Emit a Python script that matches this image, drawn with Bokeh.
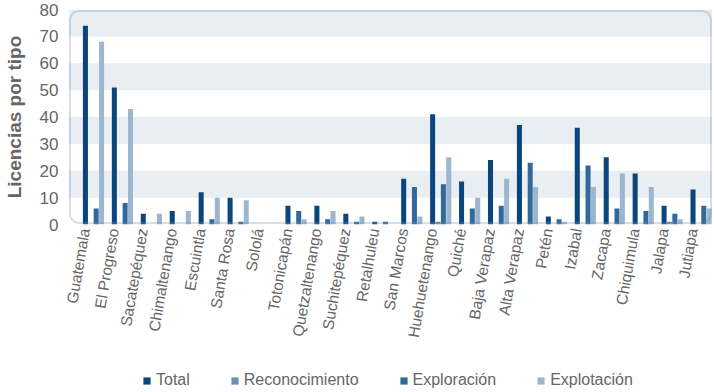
import math
from bokeh.plotting import figure
from bokeh.layouts import column
from bokeh.models import (Range1d, FixedTicker, PolyAnnotation, Legend, LegendItem,
                          ColumnDataSource)
from bokeh.transform import dodge
from bokeh.embed import file_html
from bokeh.resources import INLINE

departamentos = ["Guatemala", "El Progreso", "Sacatepéquez", "Chimaltenango", "Escuintla",
                 "Santa Rosa", "Sololá", "Totonicapán", "Quetzaltenango", "Suchitepéquez",
                 "Retalhuleu", "San Marcos", "Huehuetenango", "Quiché", "Baja Verapaz",
                 "Alta Verapaz", "Petén", "Izabal", "Zacapa", "Chiquimula", "Jalapa", "Jutiapa"]
total          = [74, 51, 4, 5, 12, 10, 0, 7, 7, 4, 1, 17, 41, 16, 24, 37, 3, 36, 25, 19, 7, 13]
reconocimiento = [0, 0, 0, 0, 0, 0, 0, 0, 0, 0, 0, 0, 1, 0, 0, 0, 0, 0, 0, 0, 1, 0]
exploracion    = [6, 8, 0, 0, 2, 1, 0, 5, 2, 1, 1, 14, 15, 6, 7, 23, 2, 22, 6, 5, 4, 7]
explotacion    = [68, 43, 4, 5, 10, 9, 0, 2, 5, 3, 0, 3, 25, 10, 17, 14, 1, 14, 19, 14, 2, 6]
series_names = ["Total", "Reconocimiento", "Exploración", "Explotación"]
y_ticks = [0, 10, 20, 30, 40, 50, 60, 70, 80]

colors = ["#0a467d", "#6991b4", "#33699a", "#9bb7d0"]
offsets = [0.027, 0.213, 0.399, 0.585]
TEXT = "#666666"
FONT = "Liberation Sans"

x = list(range(len(departamentos)))
src = ColumnDataSource(dict(x=x, s0=total, s1=reconocimiento, s2=exploracion, s3=explotacion))

x0, x1 = -0.558, 21.70
y0, y1 = 0, 80
p = figure(width=712, height=343, x_range=Range1d(x0, x1), y_range=Range1d(y0, y1),
           output_backend="svg", toolbar_location=None,
           min_border_top=9, min_border_right=0, min_border_left=0, min_border_bottom=0)
p.outline_line_color = None
p.background_fill_color = "white"

for k, name in enumerate(series_names):
    p.vbar(x=dodge("x", offsets[k], range=p.x_range), top="s%d" % k, width=0.174,
           source=src, fill_color=colors[k], line_color=None)

# grid bands
p.xgrid.grid_line_color = None
p.ygrid.grid_line_color = None
p.ygrid.band_fill_color = "#e9eef3"
p.ygrid.band_fill_alpha = 1.0
p.ygrid.ticker = FixedTicker(ticks=y_ticks)

# y axis
p.yaxis.ticker = FixedTicker(ticks=y_ticks)
p.yaxis.axis_line_color = None
p.yaxis.major_tick_line_color = None
p.yaxis.minor_tick_line_color = None
p.yaxis.major_tick_out = 0
p.yaxis.major_label_text_font = FONT
p.yaxis.major_label_text_font_size = "17px"
p.yaxis.major_label_text_color = TEXT
p.yaxis.major_label_standoff = 10
p.yaxis.axis_label = "Licencias por tipo"
p.yaxis.axis_label_text_font = FONT
p.yaxis.axis_label_text_font_size = "19px"
p.yaxis.axis_label_text_font_style = "bold"
p.yaxis.axis_label_text_color = TEXT
p.yaxis.axis_label_standoff = 12

# x axis
p.xaxis.ticker = FixedTicker(ticks=x)
p.xaxis.major_label_overrides = {i: d for i, d in enumerate(departamentos)}
p.xaxis.major_label_orientation = 1.40
p.xaxis.axis_line_color = None
p.xaxis.major_tick_line_color = None
p.xaxis.minor_tick_line_color = None
p.xaxis.major_tick_out = 0
p.xaxis.major_label_text_font = FONT
p.xaxis.major_label_text_font_size = "15.5px"
p.xaxis.major_label_text_color = TEXT
p.xaxis.major_label_standoff = 4

# rounded frame border (decoration): approx. pixel size of one data unit
FW_EST, FH_EST = 639, 216
ux = (x1 - x0) / FW_EST
uy = (y1 - y0) / FH_EST
ins = 1.5
rad = 9.0
bx0, bx1 = x0 + ins * ux, x1 - ins * ux
by0, by1 = y0 + ins * uy, y1 - ins * uy
rx, ry = rad * ux, rad * uy
corners = [(bx1 - rx, by1 - ry, 0), (bx0 + rx, by1 - ry, 90),
           (bx0 + rx, by0 + ry, 180), (bx1 - rx, by0 + ry, 270)]
xs, ys = [], []
for cx, cy, a0 in corners:
    for j in range(11):
        a = math.radians(a0 + 9 * j)
        xs.append(cx + rx * math.cos(a))
        ys.append(cy + ry * math.sin(a))
p.add_layout(PolyAnnotation(xs=xs, ys=ys, fill_alpha=0, line_color="#6f95ba", line_width=2))

# legend strip (proxy renderers use the same data but lie far outside the strip's ranges)
lf = figure(width=712, height=47, x_range=Range1d(-20, -19), y_range=Range1d(-20, -19),
            output_backend="svg", toolbar_location=None, x_axis_type=None, y_axis_type=None,
            min_border=0)
lf.outline_line_color = None
lf.xgrid.visible = False
lf.ygrid.visible = False
items = []
for k, name in enumerate(series_names):
    r = lf.vbar(x="x", top="s%d" % k, width=0.174, source=src,
                fill_color=colors[k], line_color=None)
    items.append(LegendItem(label=name, renderers=[r]))
legend = Legend(items=items, orientation="horizontal", location=(74, 1),
                label_text_font=FONT, label_text_font_size="16px", label_text_color=TEXT,
                glyph_width=9, glyph_height=9, label_standoff=5, spacing=40,
                padding=0, margin=0, border_line_color=None, background_fill_alpha=0)
lf.add_layout(legend)

layout = column(p, lf, spacing=0)
open("out.html", "w").write(file_html(layout, INLINE))
